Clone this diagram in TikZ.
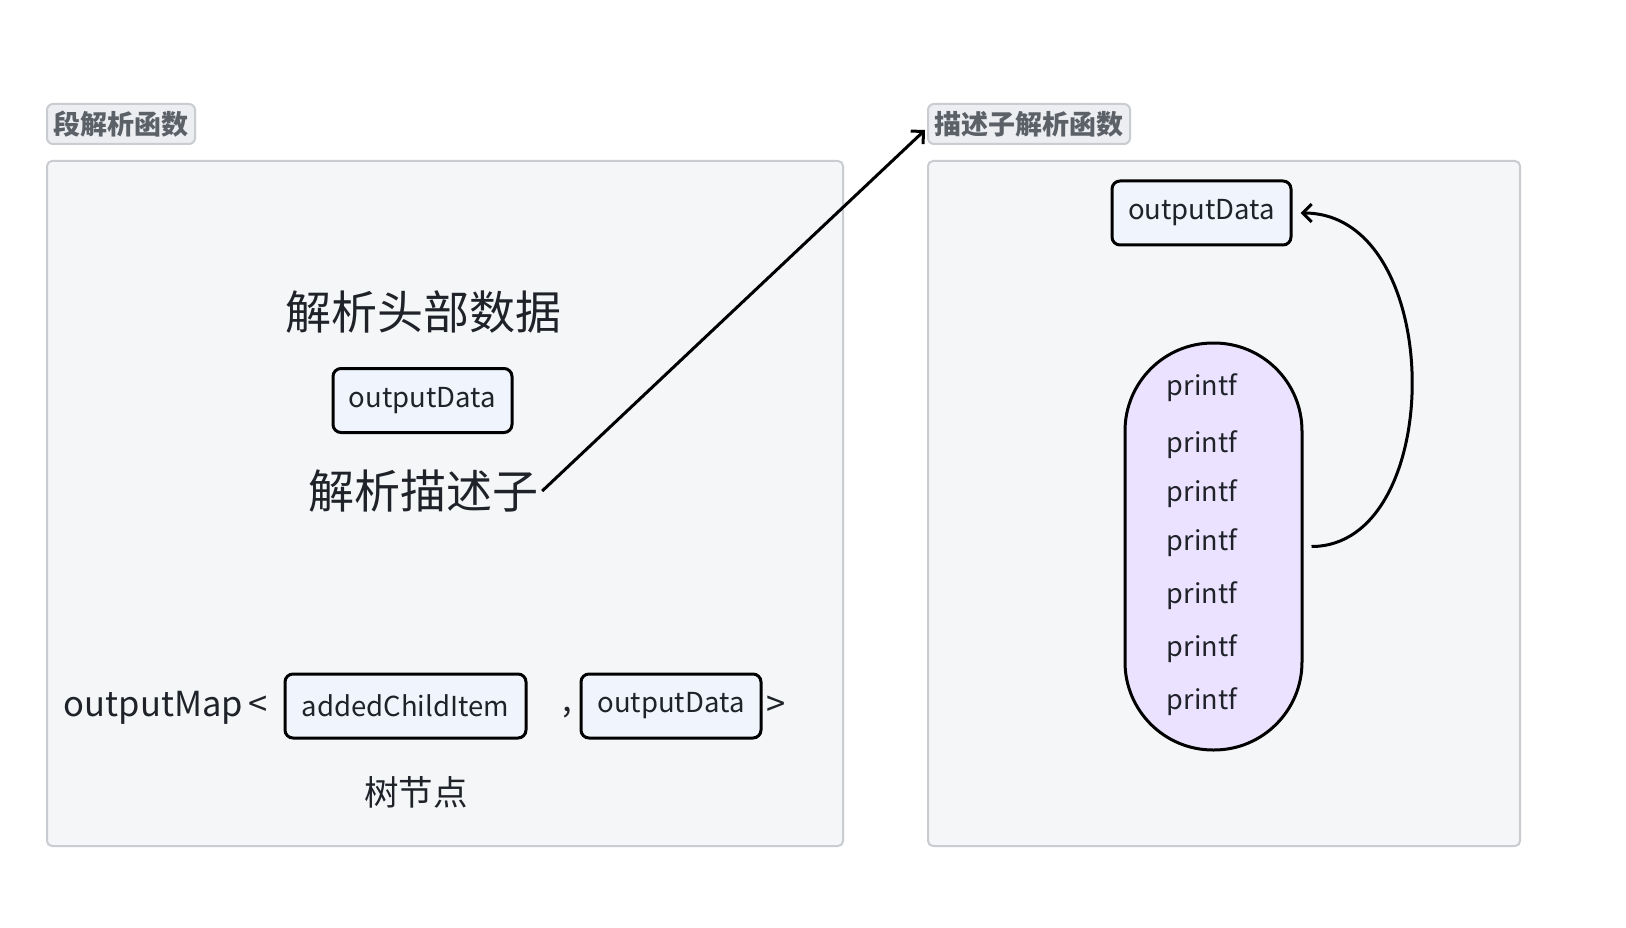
\documentclass[tikz,border=0pt]{standalone}
\usepackage{fontspec}
\setmainfont{Noto Sans CJK SC}
\usetikzlibrary{arrows.meta,positioning}

\definecolor{framefill}{HTML}{F5F6F8}
\definecolor{framedraw}{HTML}{C9CCD0}
\definecolor{tagfill}{HTML}{ECEEF1}
\definecolor{tagtext}{HTML}{5C6067}
\definecolor{boxfill}{HTML}{F0F4FC}
\definecolor{pillfill}{HTML}{EAE2FE}
\definecolor{inktext}{HTML}{1F2329}

\begin{document}
\begin{tikzpicture}[x=1pt,y=-1pt]
\tikzset{
  frame/.style={draw=framedraw, fill=framefill, line width=2pt, rounded corners=5pt},
  tag/.style={draw=framedraw, fill=tagfill, line width=2pt, rounded corners=6pt, text=tagtext,
    font=\fontsize{27}{31}\selectfont\bfseries, inner sep=0pt, minimum height=40pt},
  databox/.style={draw, fill=boxfill, line width=3pt, rounded corners=8pt, text=inktext,
    font=\fontsize{27.5}{32}\selectfont, inner sep=0pt, minimum height=64pt},
  bigtxt/.style={text=inktext, font=\fontsize{46}{52}\selectfont, inner sep=0pt},
  midtxt/.style={text=inktext, font=\fontsize{34.5}{40}\selectfont, inner sep=0pt},
  calltxt/.style={text=inktext, font=\fontsize{27}{32}\selectfont, inner sep=0pt},
  link/.style={line width=3pt, -{Straight Barb[length=9pt,width=18pt,line width=3pt]}}
}
\useasboundingbox[fill=white] (0,0) rectangle (1626,928);

\draw[frame] (47,161) rectangle (843,846);
\draw[frame] (928,161) rectangle (1520,846);

\node[tag, minimum width=148pt] (segtag) at (121,124) {段解析函数};
\node[tag, minimum width=202pt] (desctag) at (1029,124) {描述子解析函数};

\node[bigtxt] (head) at (423,312) {解析头部数据};
\node[databox, minimum width=179pt] (lout) at (422.5,400.5) {outputData};
\node[bigtxt] (desc) at (423,491) {解析描述子};

\node[midtxt, anchor=east] (omap) at (268,708) {outputMap\,<};
\node[databox, minimum width=241pt] (child) at (405.5,706) {addedChildItem};
\node[databox, minimum width=180pt] (mout) at (671,706) {outputData};
\node[midtxt] (comma) at (567,713) {,};
\node[midtxt] (close) at (776,706) {>};
\node[midtxt] (tree) at (416,792) {树节点};

\node[databox, minimum width=179pt] (rout) at (1201.5,213) {outputData};
\node[draw, fill=pillfill, line width=3pt, rounded corners=88pt,
  minimum width=177pt, minimum height=407pt] (pill) at (1213.5,546.5) {};

\node[calltxt] (c1) at (1202,388) {printf};
\node[calltxt] (c2) at (1202,445) {printf};
\node[calltxt] (c3) at (1202,494) {printf};
\node[calltxt] (c4) at (1202,543) {printf};
\node[calltxt] (c5) at (1202,596) {printf};
\node[calltxt] (c6) at (1202,649) {printf};
\node[calltxt] (c7) at (1202,702) {printf};

\draw[link] ([xshift=4pt]desc.east) -- ([xshift=-2pt,yshift=-6pt]desctag.west);
\draw[link] ([xshift=8pt]pill.east) .. controls (1447,546.5) and (1447,213) .. ([xshift=8pt]rout.east);
\end{tikzpicture}
\end{document}
